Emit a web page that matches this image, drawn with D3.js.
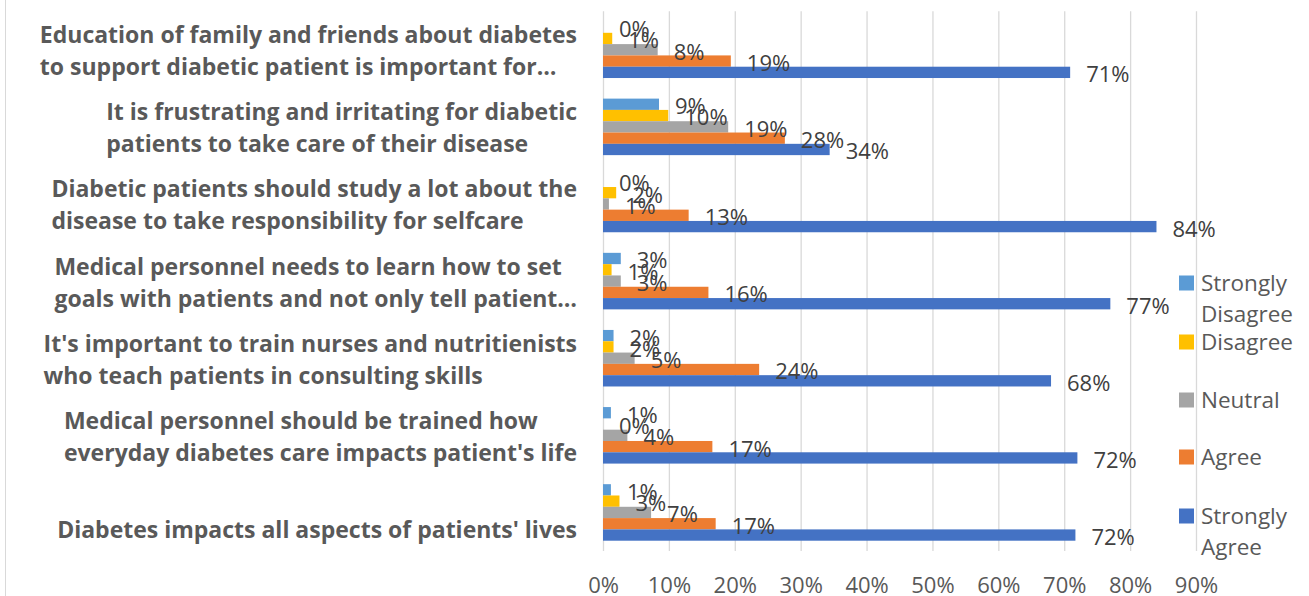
<!DOCTYPE html>
<html><head><meta charset="utf-8">
<script src="https://cdn.jsdelivr.net/npm/d3@7"></script>
<style>
body{margin:0;background:#fff;}
svg{display:block;}
text{font-family:"Open Sans", sans-serif;}
</style>
</head><body>
<svg id="chart" width="1309" height="596"></svg>
<script>
// ---- data ----
const categories = [
  "Education of family and friends about diabetes to support diabetic patient is important for…",
  "It is frustrating and irritating for diabetic patients to take care of their disease",
  "Diabetic patients should study a lot about the disease to take responsibility for selfcare",
  "Medical personnel needs to learn how to set goals with patients and not only tell patient…",
  "It's important to train nurses and nutritienists who teach patients in consulting skills",
  "Medical personnel should be trained how everyday diabetes care impacts patient's life",
  "Diabetes impacts all aspects of patients' lives"
];
const categoryLines = [
  ["Education of family and friends about diabetes", "to support diabetic patient is important for…"],
  ["It is frustrating and irritating for diabetic", "patients to take care of their disease"],
  ["Diabetic patients should study a lot about the", "disease to take responsibility for selfcare"],
  ["Medical personnel needs to learn how to set", "goals with patients and not only tell patient…"],
  ["It's important to train nurses and nutritienists", "who teach patients in consulting skills"],
  ["Medical personnel should be trained how", "everyday diabetes care impacts patient's life"],
  ["", "Diabetes impacts all aspects of patients' lives"]
];
const seriesNames = ["Strongly Disagree", "Disagree", "Neutral", "Agree", "Strongly Agree"];
const legendLines = [["Strongly", "Disagree"], ["Disagree"], ["Neutral"], ["Agree"], ["Strongly", "Agree"]];
const stronglyDisagree = [0, 8.5, 0, 2.7, 1.6, 1.2, 1.2];
const disagree         = [1.4, 9.9, 2.0, 1.3, 1.6, 0, 2.5];
const neutral          = [8.3, 19.0, 0.9, 2.7, 4.8, 3.7, 7.3];
const agree            = [19.4, 27.6, 13.0, 16.0, 23.7, 16.6, 17.1];
const stronglyAgree    = [70.9, 34.4, 84.0, 77.0, 68.0, 72.0, 71.7];
const xTicks = [0, 10, 20, 30, 40, 50, 60, 70, 80, 90];
const colors = ["#5B9BD5", "#FFC000", "#A5A5A5", "#ED7D31", "#4472C4"];

const seriesValues = [stronglyDisagree, disagree, neutral, agree, stronglyAgree];

// ---- layout ----
const svg = d3.select("#chart");
const plotTop = 11.2, plotBottom = 551, plotLeft = 603, plotRight = 1196;
const FS = 22;        // data label / tick font size
const LFS = 22.5;     // legend font size
const CFS = 23;       // category label font size

const x = d3.scaleLinear().domain([0, 90]).range([plotLeft, plotRight]);
const y = d3.scaleBand().domain(d3.range(categories.length))
  .range([plotTop, plotBottom]).paddingInner(0.267).paddingOuter(0.1335);
const ys = d3.scaleBand().domain(d3.range(seriesNames.length)).range([0, y.bandwidth()]);

// chart border (left edge)
svg.append("line").attr("x1", 5.5).attr("x2", 5.5).attr("y1", 0).attr("y2", 596)
  .attr("stroke", "#D9D9D9").attr("stroke-width", 1);

// gridlines via axis
const gridAxis = d3.axisBottom(x).tickValues(xTicks).tickSize(-(plotBottom - plotTop)).tickFormat("");
const g = svg.append("g").attr("transform", `translate(0,${plotBottom})`).call(gridAxis);
g.select(".domain").remove();
g.selectAll(".tick line").attr("stroke", "#D9D9D9").attr("stroke-width", 1.3);

// tick labels
const tickAxis = d3.axisBottom(x).tickValues(xTicks).tickSize(0).tickFormat(d => d + "%");
const ta = svg.append("g").attr("transform", `translate(0,${plotBottom})`).call(tickAxis);
ta.select(".domain").remove();
ta.selectAll(".tick text").attr("y", 42).attr("dy", null)
  .attr("font-size", FS).attr("fill", "#595959").style("font-family", "'Open Sans', sans-serif");

// bars
const groups = svg.append("g").selectAll("g").data(categories).join("g")
  .attr("transform", (d, i) => `translate(0,${y(i)})`);

groups.each(function (cat, ci) {
  const gg = d3.select(this);
  seriesValues.forEach((vals, si) => {
    const v = vals[ci];
    if (v > 0) {
      gg.append("rect")
        .attr("x", x(0)).attr("y", ys(si))
        .attr("width", x(v) - x(0)).attr("height", ys.bandwidth())
        .attr("fill", colors[si]);
    }
  });
});

// data labels
groups.each(function (cat, ci) {
  const gg = d3.select(this);
  seriesValues.forEach((vals, si) => {
    const v = vals[ci];
    gg.append("text")
      .attr("x", x(v) + 16)
      .attr("y", ys(si) + ys.bandwidth() / 2 + 2 + FS * 0.36)
      .attr("font-size", FS).attr("fill", "#404040")
      .text(Math.round(v) + "%");
  });
});

// category labels: block right-aligned, lines left-aligned
const labelRight = 577;
categoryLines.forEach((lines, ci) => {
  const c = y(ci) + y.bandwidth() / 2;
  const t = svg.append("text").attr("font-size", CFS).attr("font-weight", "bold").attr("fill", "#595959");
  const offs = [-6.5, 25.5];
  lines.forEach((ln, li) => {
    t.append("tspan").attr("y", c + offs[li]).text(ln);
  });
  let maxW = 0;
  t.selectAll("tspan").each(function () { maxW = Math.max(maxW, this.getComputedTextLength()); });
  t.selectAll("tspan").attr("x", labelRight - maxW);
});

// legend
const legendY = [283, 342, 400, 457, 516];
seriesNames.forEach((name, si) => {
  const cy = legendY[si];
  svg.append("rect").attr("x", 1179).attr("y", cy - 7.5).attr("width", 15).attr("height", 15)
    .attr("fill", colors[si]);
  const t = svg.append("text").attr("font-size", LFS).attr("fill", "#595959");
  legendLines[si].forEach((ln, li) => {
    t.append("tspan").attr("x", 1201).attr("y", cy + li * 31 + LFS * 0.36).text(ln);
  });
});
</script>
</body></html>
